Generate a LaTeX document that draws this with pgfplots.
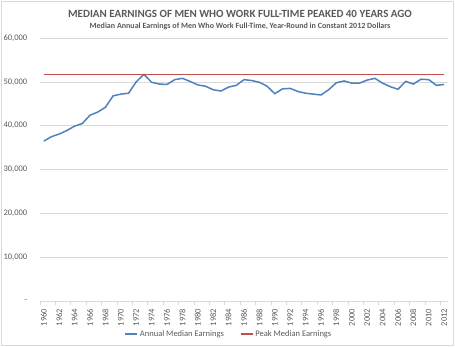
\documentclass[border=0pt]{standalone}
\usepackage{pgfplots}
\pgfplotsset{compat=1.18}
\usepackage{fontspec}
\setmainfont{Carlito}
\definecolor{txt}{HTML}{595959}
\definecolor{gridc}{HTML}{D9D9D9}
\definecolor{blueline}{HTML}{4F81BD}
\definecolor{redline}{HTML}{C0504D}
\begin{document}
\begin{tikzpicture}[x=1pt,y=1pt]
\useasboundingbox (0,0) rectangle (455,346);
\draw[gridc, line width=0.8pt] (1,1) rectangle (453,345);
\node[txt, font=\fontsize{11}{13}\selectfont\bfseries] at (240,332) {MEDIAN EARNINGS OF MEN WHO WORK FULL-TIME PEAKED 40 YEARS AGO};
\node[txt, font=\fontsize{8}{10}\selectfont\bfseries] at (240,320) {Median Annual Earnings of Men Who Work Full-Time, Year-Round in Constant 2012 Dollars};
\begin{axis}[
  at={(40pt,45pt)}, anchor=south west,
  scale only axis, width=408pt, height=263pt,
  xmin=1959.5, xmax=2012.5, ymin=0, ymax=60000,
  axis lines=left,
  y axis line style={draw=none},
  x axis line style={gridc, line width=0.8pt, -},
  ymajorgrids, grid style={gridc, line width=0.6pt},
  ytick={0,10000,20000,30000,40000,50000,60000},
  yticklabels={{-},{10,000},{20,000},{30,000},{40,000},{50,000},{60,000}},
  major y tick style={draw=none},
  yticklabel style={font=\fontsize{8.5}{10}\selectfont, text=txt, xshift=-5pt},
  xtick={1960,1962,...,2012},
  xticklabels={1960,1962,1964,1966,1968,1970,1972,1974,1976,1978,1980,1982,1984,1986,1988,1990,1992,1994,1996,1998,2000,2002,2004,2006,2008,2010,2012},
  minor xtick={1959.5,1961.5,...,2012.5},
  major x tick style={draw=none},
  minor x tick style={gridc, line width=0.6pt},
  tick align=outside, minor tick length=4pt,
  xticklabel style={rotate=90, anchor=east, font=\fontsize{8.5}{10}\selectfont, text=txt},
  /pgf/number format/assume math mode=true,
  scaled y ticks=false,
  legend columns=2,
  legend style={at={(0.463,-0.125)}, anchor=center, draw=none, fill=none,
    font=\fontsize{8.5}{10}\selectfont, text=txt,
    /tikz/every even column/.append style={column sep=14pt}},
  legend image code/.code={\draw[#1] (0pt,0pt) -- (12pt,0pt);},
  clip=false,
]
\addplot[blueline, line width=1.5pt] coordinates {
(1960,36500) (1961,37500) (1962,38100) (1963,38900) (1964,39900) (1965,40500)
(1966,42400) (1967,43100) (1968,44200) (1969,46800) (1970,47200) (1971,47400)
(1972,50000) (1973,51700) (1974,49900) (1975,49500) (1976,49400) (1977,50500)
(1978,50800) (1979,50100) (1980,49300) (1981,49000) (1982,48200) (1983,47900)
(1984,48800) (1985,49200) (1986,50500) (1987,50300) (1988,49900) (1989,49000)
(1990,47300) (1991,48400) (1992,48500) (1993,47800) (1994,47400) (1995,47200)
(1996,47000) (1997,48200) (1998,49800) (1999,50200) (2000,49700) (2001,49700)
(2002,50400) (2003,50800) (2004,49700) (2005,48900) (2006,48300) (2007,50100)
(2008,49500) (2009,50600) (2010,50500) (2011,49200) (2012,49400)
};
\addlegendentry{Annual Median Earnings}
\addplot[redline, line width=1.5pt] coordinates {(1960,51700) (2012,51700)};
\addlegendentry{Peak Median Earnings}
\end{axis}
\end{tikzpicture}
\end{document}
